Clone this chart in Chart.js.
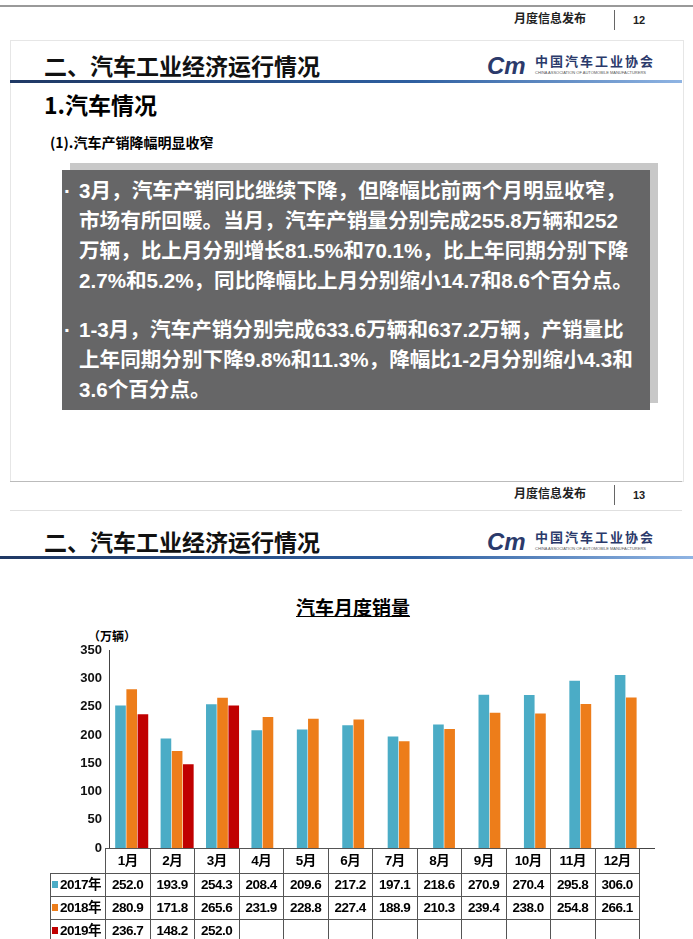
<!DOCTYPE html>
<html><head><meta charset="utf-8">
<script src="https://cdn.jsdelivr.net/npm/chart.js@4"></script>
<style>
body{margin:0;width:693px;height:939px;background:#fff;position:relative;overflow:hidden;font-family:"Liberation Sans","Noto Sans CJK SC",sans-serif;}
.a{position:absolute;white-space:nowrap;line-height:1;}
.hdr{font-weight:bold;font-size:12px;color:#222;}
.title{font-weight:bold;font-size:23px;color:#111;font-family:"Noto Sans CJK SC";}
.bl{position:absolute;height:3px;background:linear-gradient(90deg,#1f3864,#2e5fa0 60%,#8fb4e3);}
.box{position:absolute;left:62px;top:170px;width:588px;height:240px;background:#666667;}
.shadow{position:absolute;left:70px;top:163px;width:588px;height:240px;background:#c8c8c8;}
.bt{position:absolute;left:68px;color:#fff;font-weight:bold;font-size:20.6px;line-height:30px;white-space:nowrap;font-family:"Liberation Sans","Noto Sans CJK SC";}
table{position:absolute;left:50px;top:848px;border-collapse:collapse;font-weight:bold;font-size:13.5px;line-height:1;font-family:"Liberation Sans","Noto Sans CJK SC";}
td{border:1px solid #555;text-align:center;height:23px;padding:0;width:44.5px;box-sizing:border-box;letter-spacing:-0.5px;}
td.l{width:55px;text-align:left;white-space:nowrap;padding-left:1px;}
tr.h td{height:25px;}
.sq{display:inline-block;width:6px;height:7px;margin-right:2px;vertical-align:1px;}
</style></head><body>
<div class="a" style="left:0;top:5px;width:693px;height:2px;background:#999"></div>
<div class="a hdr" style="left:514px;top:13px">月度信息发布</div>
<div class="a" style="left:614px;top:10px;width:1px;height:20px;background:#666"></div>
<div class="a hdr" style="left:633px;top:15px;font-size:11px">12</div>
<div class="a" style="left:10px;top:40px;width:672px;height:440px;border:1px solid #e6e6e6"></div>
<div class="a title" style="left:44px;top:54px">二、汽车工业经济运行情况</div>
<div class="bl" style="left:10px;top:80px;width:672px"></div>
<div class="a" style="left:487px;top:54px;font-family:'Liberation Sans';font-weight:bold;font-style:italic;font-size:24px;color:#2b3a6b">Cm</div>
<div class="a" style="left:535px;top:54px;font-size:13px;color:#2b3a6b;font-weight:bold;letter-spacing:2px;font-family:'Noto Sans CJK SC'">中国汽车工业协会</div>
<div class="a" style="left:535px;top:71px;font-size:4px;color:#555">CHINA ASSOCIATION OF AUTOMOBILE MANUFACTURERS</div>
<div class="a" style="left:44px;top:93px;font-weight:bold;font-size:23px;font-family:'Noto Sans CJK SC'">1.汽车情况</div>
<div class="a" style="left:50px;top:135px;font-weight:bold;font-size:14px;font-family:'Noto Sans CJK SC'">(1).汽车产销降幅明显收窄</div>
<div class="shadow"></div><div class="box"></div>
<div class="bt" style="top:176px;left:64px">·</div>
<div class="bt" style="top:176px;left:79px">3月，汽车产销同比继续下降，但降幅比前两个月明显收窄，<br>市场有所回暖。当月，汽车产销量分别完成255.8万辆和252<br>万辆，比上月分别增长81.5%和70.1%，比上年同期分别下降<br>2.7%和5.2%，同比降幅比上月分别缩小14.7和8.6个百分点。</div>
<div class="bt" style="top:315px;left:64px">·</div>
<div class="bt" style="top:315px;left:79px">1-3月，汽车产销分别完成633.6万辆和637.2万辆，产销量比<br>上年同期分别下降9.8%和11.3%，降幅比1-2月分别缩小4.3和<br>3.6个百分点。</div>
<div class="a" style="left:10px;top:481px;width:672px;height:1px;background:#bbb"></div>
<div class="a hdr" style="left:514px;top:488px">月度信息发布</div>
<div class="a" style="left:614px;top:485px;width:1px;height:20px;background:#666"></div>
<div class="a hdr" style="left:633px;top:490px;font-size:11px">13</div>
<div class="a" style="left:10px;top:510px;width:672px;height:1px;background:#e0e0e0"></div>
<div class="a title" style="left:44px;top:530px">二、汽车工业经济运行情况</div>
<div class="bl" style="left:0;top:556px;width:693px"></div>
<div class="a" style="left:487px;top:530px;font-family:'Liberation Sans';font-weight:bold;font-style:italic;font-size:24px;color:#2b3a6b">Cm</div>
<div class="a" style="left:535px;top:530px;font-size:13px;color:#2b3a6b;font-weight:bold;letter-spacing:2px;font-family:'Noto Sans CJK SC'">中国汽车工业协会</div>
<div class="a" style="left:535px;top:547px;font-size:4px;color:#555">CHINA ASSOCIATION OF AUTOMOBILE MANUFACTURERS</div>
<div class="a" style="left:296px;top:597px;font-weight:bold;font-size:19px;text-decoration:underline;font-family:'Noto Sans CJK SC'">汽车月度销量</div>
<div class="a" style="left:88px;top:630px;font-weight:bold;font-size:12px;font-family:'Noto Sans CJK SC'">（万辆）</div>
<div class="a" style="left:50px;top:636px;width:606px;height:223px"><canvas id="c"></canvas></div>
<table id="t"></table>
<script>
const categories=["1月","2月","3月","4月","5月","6月","7月","8月","9月","10月","11月","12月"];
const seriesNames=["2017年","2018年","2019年"];
const s2017=[252.0,193.9,254.3,208.4,209.6,217.2,197.1,218.6,270.9,270.4,295.8,306.0];
const s2018=[280.9,171.8,265.6,231.9,228.8,227.4,188.9,210.3,239.4,238.0,254.8,266.1];
const s2019=[236.7,148.2,252.0,null,null,null,null,null,null,null,null,null];
const yTicks=[0,50,100,150,200,250,300,350];
const colors=["#4bacc6","#ed7d1a","#c00000"];
const all=[s2017,s2018,s2019];
new Chart(document.getElementById('c'),{type:'bar',
data:{labels:categories,datasets:all.map((d,i)=>({label:seriesNames[i],data:d,backgroundColor:colors[i],barPercentage:0.95,categoryPercentage:0.74}))},
options:{responsive:true,maintainAspectRatio:false,animation:false,
layout:{padding:{top:14,right:2,bottom:0}},
plugins:{legend:{display:false},tooltip:{enabled:false}},
scales:{x:{grid:{display:false,drawTicks:false},border:{color:'#444'},ticks:{display:false}},
y:{min:0,max:350,afterFit:s=>{s.width=59},afterBuildTicks:s=>{s.ticks=yTicks.map(v=>({value:v}))},
grid:{display:false,drawOnChartArea:false,drawTicks:true,tickLength:4,tickColor:'#444'},border:{color:'#444'},
ticks:{color:'#111',font:{weight:'bold',size:13,family:'Liberation Sans'},padding:3}}}}});
const t=document.getElementById('t');
let h='<tr class="h"><td class="l" style="border:none"></td>'+categories.map(c=>'<td>'+c+'</td>').join('')+'</tr>';
all.forEach((d,i)=>{h+='<tr><td class="l"><span class="sq" style="background:'+colors[i]+'"></span>'+seriesNames[i]+'</td>'+d.map(v=>'<td>'+(v==null?'':v.toFixed(1))+'</td>').join('')+'</tr>';});
t.innerHTML=h;
</script></body></html>
